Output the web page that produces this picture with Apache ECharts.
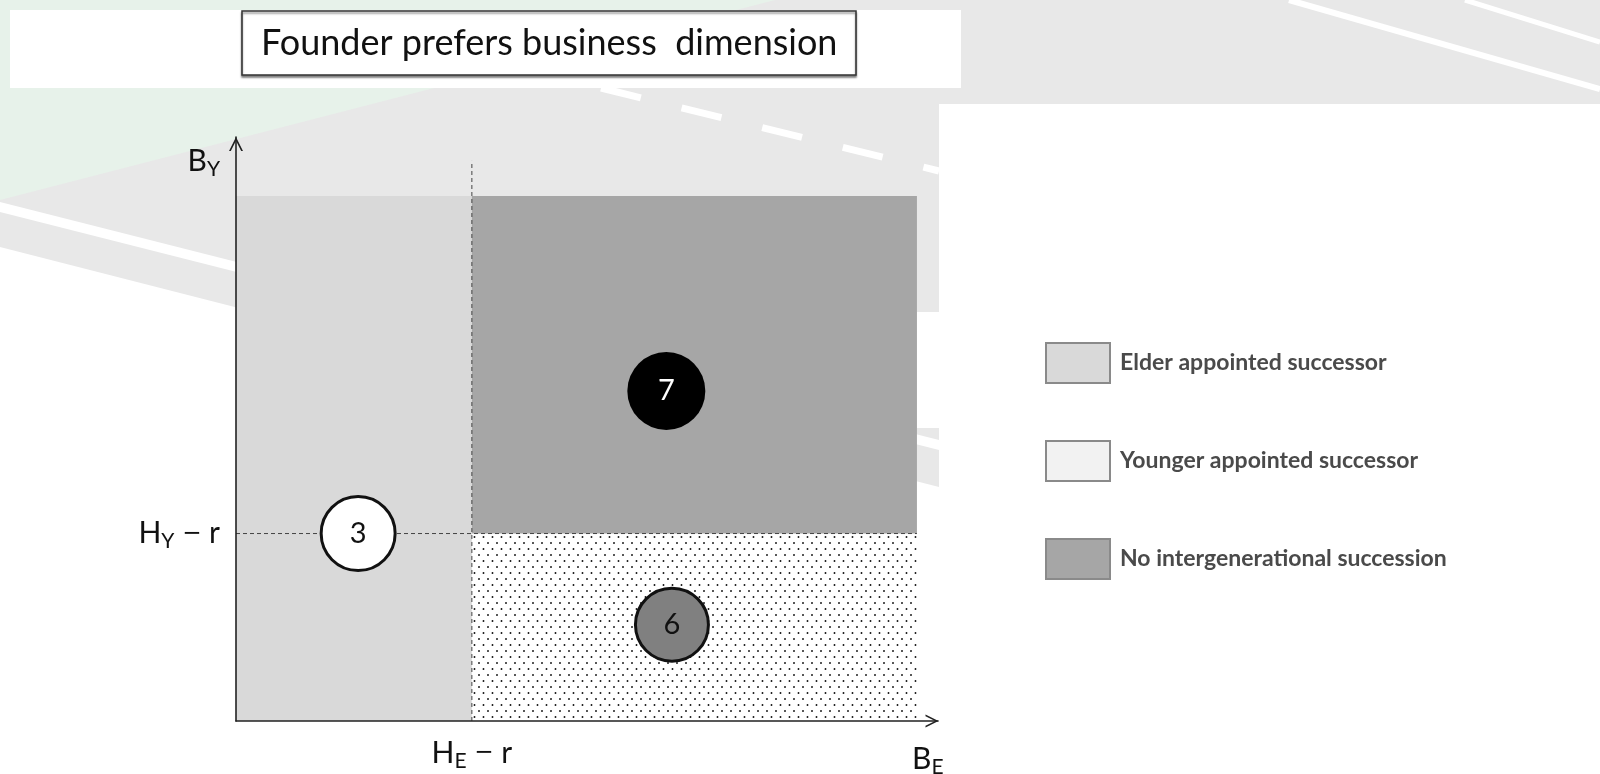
<!DOCTYPE html>
<html>
<head>
<meta charset="utf-8">
<script src="https://cdn.jsdelivr.net/npm/echarts@6/dist/echarts.min.js"></script>
<style>
  html, body { margin: 0; padding: 0; background: #ffffff; }
  #chart { width: 1600px; height: 774px; }
</style>
</head>
<body>
<div id="chart"></div>
<script>
// ---------------- data ----------------
const titleText = 'Founder prefers business  dimension';
const axisMaxX = 10;
const axisMaxY = 10;
const xThreshold = 3.36;          // H_E − r
const yThreshold = 3.21;          // H_Y − r
const xTickLabels = ['H{s|E} {d|−} r'];
const yTickLabels = ['H{s|Y} {d|−} r'];
const xAxisName = 'B{s|E}';
const yAxisName = 'B{s|Y}';

const regionNames = ['Elder appointed successor', 'Younger appointed successor', 'No intergenerational succession'];
const regionX0 = [0, 3.36, 3.36];
const regionY0 = [0, 0, 3.21];
const regionX1 = [3.36, 9.70, 9.70];
const regionY1 = [8.99, 3.21, 8.99];

const dashedVTop = 9.59;
const dashedHRight = 9.70;

const circleLabels = ['3', '7', '6'];
const circleX = [1.74, 6.13, 6.21];
const circleY = [3.21, 5.65, 1.65];

// ---------------- styles ----------------
const regionColors = ['#d9d9d9', '#f2f2f2', '#a6a6a6'];
const circleStyles = [
  { fill: '#ffffff', border: '#111111', bw: 3, text: '#111111', size: 74 },
  { fill: '#000000', border: '#000000', bw: 0, text: '#ffffff', size: 78 },
  { fill: '#808080', border: '#111111', bw: 3, text: '#111111', size: 73 }
];
const FONT = 'Lato, "Open Sans", sans-serif';

// dotted pattern for the "younger" region
const tile = document.createElement('canvas');
tile.width = 9; tile.height = 12;
const tctx = tile.getContext('2d');
tctx.fillStyle = '#ffffff';
tctx.fillRect(0, 0, 9, 12);
tctx.fillStyle = '#111111';
tctx.beginPath(); tctx.arc(2, 3, 0.95, 0, Math.PI * 2); tctx.fill();
tctx.beginPath(); tctx.arc(6.5, 9, 0.95, 0, Math.PI * 2); tctx.fill();
const dotPattern = { image: tile, repeat: 'repeat' };

const richLabel = {
  m: { fontSize: 30, fontFamily: FONT, color: '#111', lineHeight: 36 },
  d: { fontSize: 23, fontFamily: '"DejaVu Sans"', color: '#111', lineHeight: 36 },
  s: { fontSize: 21, fontFamily: FONT, color: '#111', lineHeight: 36, padding: [16, 0, 0, 0] }
};
function wrapRich(t) {
  return t.split(/(\{[a-z]\|[^}]*\})/).map(p => p.startsWith('{') ? p : (p ? '{m|' + p + '}' : '')).join('');
}

const chart = echarts.init(document.getElementById('chart'), null, { renderer: 'canvas' });

const regionSeries = regionNames.map((name, i) => ({
  name: name,
  type: 'custom',
  z: 1,
  silent: true,
  itemStyle: { color: regionColors[i] },
  encode: { x: [0, 2], y: [1, 3] },
  data: [[regionX0[i], regionY0[i], regionX1[i], regionY1[i]]],
  renderItem: function (params, api) {
    const p0 = api.coord([api.value(0), api.value(1)]);
    const p1 = api.coord([api.value(2), api.value(3)]);
    return {
      type: 'rect',
      shape: { x: p0[0], y: p1[1], width: p1[0] - p0[0], height: p0[1] - p1[1] },
      style: { fill: i === 1 ? dotPattern : regionColors[i], stroke: null }
    };
  }
}));

const arrowPath = 'path://M0,10 L5,0 L10,10 L8.7,10 L5,2.6 L1.3,10 Z';

const option = {
  animation: false,
  backgroundColor: '#ffffff',
  title: {
    text: titleText,
    left: 242,
    top: 11,
    padding: [12, 19, 12, 19],
    backgroundColor: '#ffffff',
    borderColor: '#333333',
    borderWidth: 1.5,
    shadowColor: 'rgba(0,0,0,0.45)',
    shadowBlur: 2,
    shadowOffsetY: 2,
    textStyle: { fontFamily: FONT, fontSize: 36, lineHeight: 40, fontWeight: 'normal', color: '#111111' }
  },
  legend: {
    orient: 'vertical',
    left: 1040,
    top: 337,
    icon: 'rect',
    itemWidth: 64,
    itemHeight: 40,
    itemGap: 56,
    selectedMode: false,
    data: regionNames,
    itemStyle: { borderColor: '#8a8a8a', borderWidth: 2 },
    textStyle: { fontFamily: FONT, fontSize: 23, fontWeight: 'bold', color: '#4a4a4a', padding: [0, 0, 0, 5] }
  },
  grid: { left: 236, right: 662, top: 137, bottom: 53, containLabel: false, outerBoundsMode: 'none' },
  xAxis: {
    type: 'value', min: 0, max: axisMaxX, z: 10,
    name: wrapRich(xAxisName),
    nameLocation: 'end',
    nameGap: -26,
    nameTextStyle: { align: 'left', verticalAlign: 'top', padding: [20, 0, 0, 0], rich: richLabel },
    axisLine: { show: true, symbol: ['none', arrowPath], symbolSize: [15, 13], symbolOffset: [0, -6],
      lineStyle: { color: '#222222', width: 1.6 } },
    axisTick: { show: false },
    splitLine: { show: false },
    axisLabel: {
      customValues: [xThreshold],
      margin: 14,
      formatter: () => wrapRich(xTickLabels[0]),
      rich: richLabel
    }
  },
  yAxis: {
    type: 'value', min: 0, max: axisMaxY, z: 10,
    name: wrapRich(yAxisName),
    nameLocation: 'end',
    nameGap: -42,
    nameTextStyle: { align: 'right', padding: [0, 16, 0, 0], rich: richLabel },
    axisLine: { show: true, symbol: ['none', arrowPath], symbolSize: [14, 14], symbolOffset: [0, -7],
      lineStyle: { color: '#222222', width: 1.6 } },
    axisTick: { show: false },
    splitLine: { show: false },
    axisLabel: {
      customValues: [yThreshold],
      margin: 16,
      formatter: () => wrapRich(yTickLabels[0]),
      rich: richLabel
    }
  },
  graphic: [
    // decorative slide background
    { type: 'polygon', z: -100, silent: true, shape: { points: [[0,0],[1600,0],[1600,104],[939,104],[939,487],[0,247]] }, style: { fill: '#e8e8e8' } },
    { type: 'rect', z: -99, silent: true, shape: { x: 917, y: 312, width: 22, height: 116 }, style: { fill: '#ffffff' } },
    { type: 'polygon', z: -99, silent: true, shape: { points: [[0,0],[775,0],[0,200]] }, style: { fill: '#e7f2ea' } },
    { type: 'polygon', z: -98, silent: true, shape: { points: [[0,202],[939,440],[939,450],[0,212]] }, style: { fill: '#ffffff' } },
    { type: 'line', z: -98, silent: true, shape: { x1: 601, y1: 88, x2: 939, y2: 171 }, style: { stroke: '#ffffff', lineWidth: 7, lineDash: [41, 42] } },
    { type: 'line', z: -98, silent: true, shape: { x1: 1289, y1: 0, x2: 1600, y2: 89 }, style: { stroke: '#ffffff', lineWidth: 6 } },
    { type: 'line', z: -98, silent: true, shape: { x1: 1465, y1: 0, x2: 1600, y2: 42 }, style: { stroke: '#ffffff', lineWidth: 5 } },
    { type: 'rect', z: -97, silent: true, shape: { x: 10, y: 10, width: 951, height: 78 }, style: { fill: '#ffffff' } }
  ],
  series: regionSeries.concat([
    {
      type: 'line', name: 'hdash', z: 3, silent: true, symbol: 'none',
      data: [[0, yThreshold], [dashedHRight, yThreshold]],
      lineStyle: { color: '#444444', width: 1, type: [4, 3] }
    },
    {
      type: 'line', name: 'vdash', z: 3, silent: true, symbol: 'none',
      data: [[xThreshold, 0], [xThreshold, dashedVTop]],
      lineStyle: { color: '#444444', width: 1, type: [4, 3] }
    },
    {
      type: 'scatter', name: 'circles', z: 5, silent: true,
      data: circleLabels.map((lab, i) => ({
        name: lab,
        value: [circleX[i], circleY[i]],
        symbolSize: circleStyles[i].size,
        itemStyle: { color: circleStyles[i].fill, borderColor: circleStyles[i].border, borderWidth: circleStyles[i].bw, opacity: 1 },
        label: { show: true, position: 'inside', formatter: '{b}', fontFamily: FONT, fontSize: 29, color: circleStyles[i].text }
      }))
    }
  ])
};
chart.setOption(option);
</script>
</body>
</html>
